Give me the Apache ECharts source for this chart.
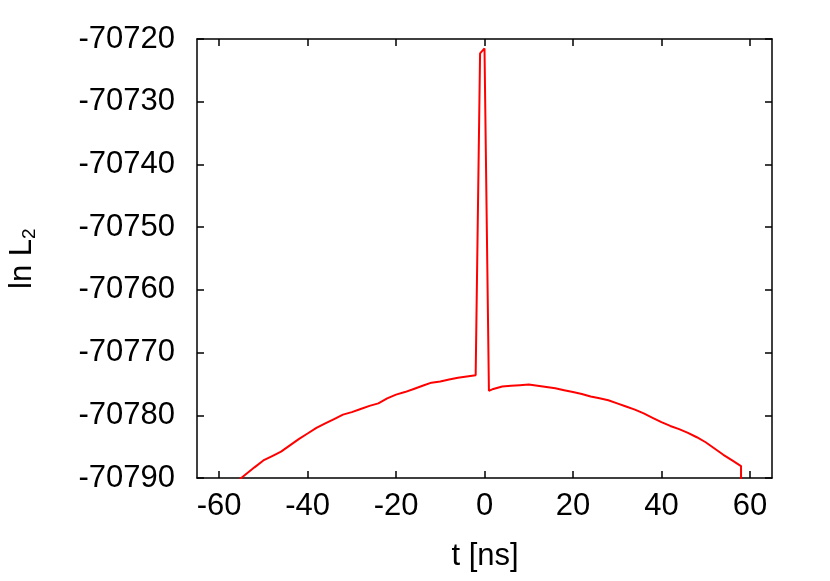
<!DOCTYPE html>
<html>
<head>
<meta charset="utf-8">
<script src="https://cdn.jsdelivr.net/npm/echarts@6/dist/echarts.min.js"></script>
<style>
html, body { margin: 0; padding: 0; background: #fff; }
#chart { width: 830px; height: 581px; }
</style>
</head>
<body>
<div id="chart"></div>
<script>
// t [ns] and ln L2
const tValues = [
    -56, -55, -52, -50, -48, -46, -44, -42, -40, -38, -36, -34, -32, -30,
    -28, -26, -24, -22, -20, -18, -16, -14, -12, -10, -8, -6, -4, -2,
    -1, 0, 1,
    2, 4, 6, 8, 10, 12, 14, 16, 18, 20, 22, 24, 26, 28, 30, 32, 34, 36,
    38, 40, 42, 44, 46, 48, 50, 52, 54, 56, 58, 58
];
const lnL2 = [
    -70790.8, -70790.0, -70788.3, -70787.2, -70786.5, -70785.8, -70784.8, -70783.8,
    -70782.9, -70782.0, -70781.3, -70780.6, -70779.9, -70779.5, -70779.0, -70778.5,
    -70778.1, -70777.3, -70776.7, -70776.3, -70775.8, -70775.3, -70774.8, -70774.6,
    -70774.3, -70774.0, -70773.8, -70773.6,
    -70722.3, -70721.5, -70776.1,
    -70775.8, -70775.4, -70775.3, -70775.2, -70775.1, -70775.3, -70775.5, -70775.7,
    -70776.0, -70776.3, -70776.6, -70777.0, -70777.3, -70777.6, -70778.1, -70778.6,
    -70779.1, -70779.7, -70780.4, -70781.1, -70781.7, -70782.2, -70782.8, -70783.5,
    -70784.3, -70785.3, -70786.3, -70787.2, -70788.1, -70800.0
];
const xTicks = [-60, -40, -20, 0, 20, 40, 60];
const yTicks = [-70790, -70780, -70770, -70760, -70750, -70740, -70730, -70720];

const font = 'Liberation Sans';
const frame = {show: true, onZero: false, lineStyle: {color: '#000', width: 1.5}};
const tick = {show: true, inside: true, length: 7, lineStyle: {color: '#000', width: 1.5}};
const plain = (v) => String(v);

const chart = echarts.init(document.getElementById('chart'), null, {renderer: 'canvas'});

const xBase = {
    type: 'value', min: -65, max: 65,
    axisLine: frame, splitLine: {show: false}
};
const yBase = {
    type: 'value', min: yTicks[0], max: yTicks[yTicks.length - 1], interval: 10,
    axisLine: frame, splitLine: {show: false}, axisTick: tick
};

chart.setOption({
    animation: false,
    grid: {left: 197, right: 58, top: 39, bottom: 103},
    xAxis: [
        {
            ...xBase, position: 'bottom',
            axisTick: {...tick, customValues: xTicks},
            axisLabel: {
                customValues: xTicks, margin: 13, formatter: plain,
                color: '#000', fontSize: 31, fontFamily: font
            }
        },
        {
            ...xBase, position: 'top',
            axisTick: {...tick, customValues: xTicks},
            axisLabel: {show: false}
        }
    ],
    yAxis: [
        {
            ...yBase, position: 'left',
            axisLabel: {margin: 22, formatter: plain, color: '#000', fontSize: 31, fontFamily: font}
        },
        {...yBase, position: 'right', axisLabel: {show: false}}
    ],
    graphic: [
        {
            type: 'text', x: 485, y: 556,
            style: {
                text: 't [ns]', fill: '#000', fontSize: 31, fontFamily: font,
                align: 'center', verticalAlign: 'middle'
            }
        },
        {
            type: 'group', x: 22, y: 258, rotation: Math.PI / 2,
            children: [
                {
                    type: 'text', x: -31, y: 0,
                    style: {
                        text: 'ln L', fill: '#000', fontSize: 31, fontFamily: font,
                        align: 'left', verticalAlign: 'middle'
                    }
                },
                {
                    type: 'text', x: 19, y: 8,
                    style: {
                        text: '2', fill: '#000', fontSize: 19, fontFamily: font,
                        align: 'left', verticalAlign: 'middle'
                    }
                }
            ]
        }
    ],
    series: [
        {
            type: 'line',
            xAxisIndex: 0,
            yAxisIndex: 0,
            data: tValues.map((t, i) => [t, lnL2[i]]),
            showSymbol: false,
            clip: true,
            lineStyle: {color: '#ff0000', width: 2},
            itemStyle: {color: '#ff0000'}
        }
    ]
});
</script>
</body>
</html>
